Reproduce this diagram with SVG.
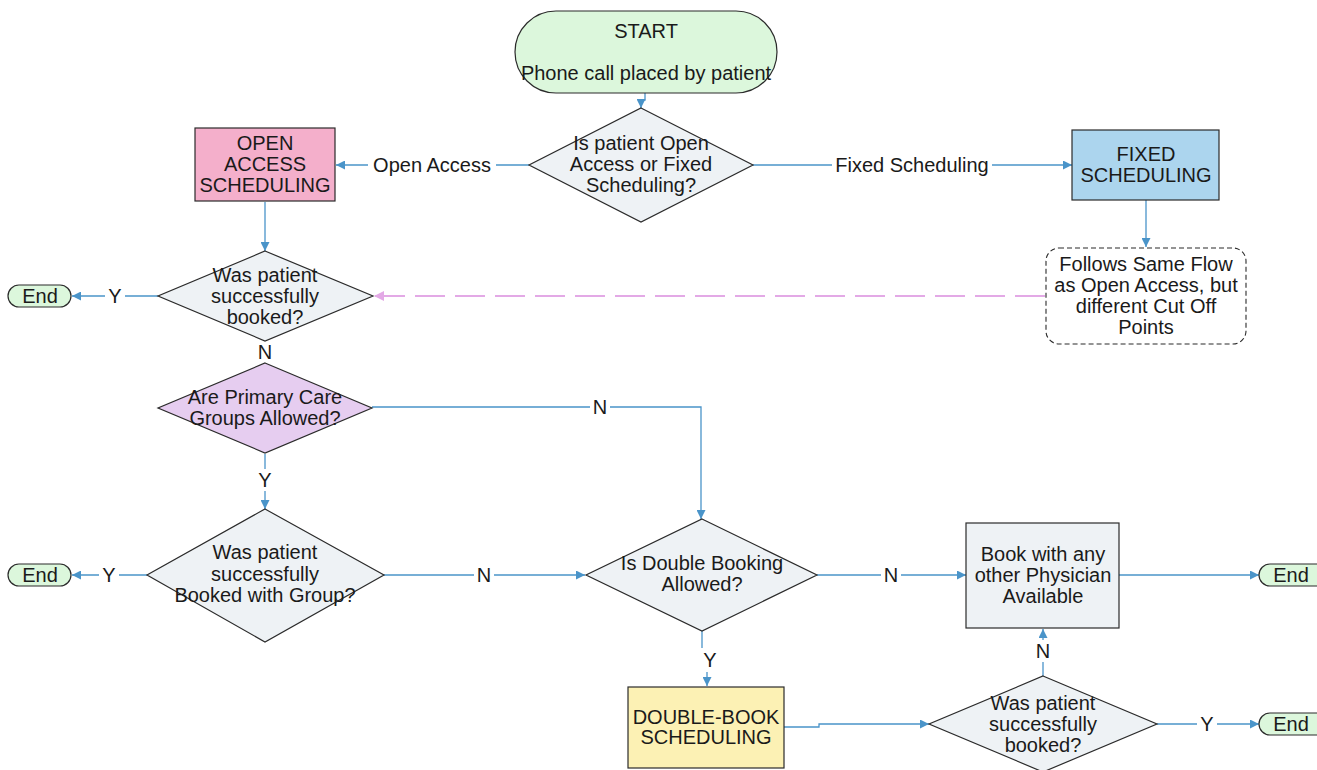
<svg xmlns="http://www.w3.org/2000/svg" width="1317" height="770" viewBox="0 0 1317 770">
  <defs>
    <marker id="arrow" viewBox="0 0 10 10" refX="10" refY="5" markerWidth="10" markerHeight="9" markerUnits="userSpaceOnUse" orient="auto">
      <path d="M0,0 L10,5 L0,10 Z" fill="#4a94c9"/>
    </marker>
    <marker id="arrowPink" viewBox="0 0 10 10" refX="10" refY="5" markerWidth="12" markerHeight="10" markerUnits="userSpaceOnUse" orient="auto">
      <path d="M0,0 L10,5 L0,10 Z" fill="#e3a9e6"/>
    </marker>
  </defs>
  <style>
    text { font-family: "Liberation Sans", Arial, sans-serif; font-size: 20px; fill: #1a1a1a; text-anchor: middle; }
    .shape { stroke: #2b2b2b; stroke-width: 1.2; }
    .term { fill: #dcf7dc; }
    .decision { fill: #eef2f5; }
    .link { fill: none; stroke: #4a94c9; stroke-width: 1.3; marker-end: url(#arrow); }
    .bg { fill: #ffffff; }
  </style>
  <rect width="1317" height="770" fill="#ffffff"/>

  <!-- connectors -->
  <g id="connectors">
    <path class="link" d="M645,93 V100 H641 V108"/>
    <path class="link" d="M529,165 H336"/>
    <path class="link" d="M753,165 H1072"/>
    <path class="link" d="M265,202 V251"/>
    <path class="link" d="M1146,200 V247"/>
    <path d="M1045,296 H374" fill="none" stroke="#e3a9e6" stroke-width="2" stroke-dasharray="30 10" marker-end="url(#arrowPink)"/>
    <path class="link" d="M158,296 H72"/>
    <path class="link" d="M265,454 V509"/>
    <path class="link" d="M372,407 H701 V519"/>
    <path class="link" d="M147,575 H72"/>
    <path class="link" d="M384,575 H585"/>
    <path class="link" d="M817,575 H966"/>
    <path class="link" d="M1119,575 H1259"/>
    <path class="link" d="M702,631 V660 H707 V686"/>
    <path class="link" d="M784,727 H819 V724 H929"/>
    <path class="link" d="M1043,676 V629"/>
    <path class="link" d="M1157,724 H1259"/>

    <!-- connector labels -->
    <rect class="bg" x="368" y="154" width="128" height="22"/>
    <text x="432" y="172">Open Access</text>
    <rect class="bg" x="832" y="154" width="160" height="22"/>
    <text x="912" y="172">Fixed Scheduling</text>
    <rect class="bg" x="105" y="285" width="20" height="22"/>
    <text x="115" y="303">Y</text>
    <text x="265" y="359">N</text>
    <rect class="bg" x="255" y="469" width="20" height="22"/>
    <text x="265" y="487">Y</text>
    <rect class="bg" x="590" y="396" width="20" height="22"/>
    <text x="600" y="414">N</text>
    <rect class="bg" x="99" y="564" width="20" height="22"/>
    <text x="109" y="582">Y</text>
    <rect class="bg" x="474" y="564" width="20" height="22"/>
    <text x="484" y="582">N</text>
    <rect class="bg" x="881" y="564" width="20" height="22"/>
    <text x="891" y="582">N</text>
    <rect class="bg" x="699" y="648" width="22" height="24"/>
    <text x="710" y="667">Y</text>
    <rect class="bg" x="1033" y="640" width="20" height="22"/>
    <text x="1043" y="658">N</text>
    <rect class="bg" x="1197" y="713" width="20" height="22"/>
    <text x="1207" y="731">Y</text>
  </g>

  <!-- start terminal -->
  <g id="start">
    <rect class="shape term" x="515" y="11" width="262" height="82" rx="41" ry="41"/>
    <text x="646" y="38">START</text>
    <text x="646" y="80">Phone call placed by patient</text>
  </g>

  <!-- schedule type decision -->
  <g id="schedule-type">
    <polygon class="shape decision" points="641,108 753,165 641,222 529,165"/>
    <text x="641" y="150">Is patient Open</text>
    <text x="641" y="171">Access or Fixed</text>
    <text x="641" y="192">Scheduling?</text>
  </g>

  <g id="open-access">
    <rect class="shape" x="195" y="128" width="140" height="73" fill="#f4afcb"/>
    <text x="265" y="150">OPEN</text>
    <text x="265" y="171">ACCESS</text>
    <text x="265" y="192">SCHEDULING</text>
  </g>

  <g id="fixed">
    <rect class="shape" x="1072" y="130" width="147" height="70" fill="#acd5ee"/>
    <text x="1146" y="161">FIXED</text>
    <text x="1146" y="182">SCHEDULING</text>
  </g>

  <g id="same-flow-note">
    <rect x="1046" y="248" width="200" height="96" rx="13" ry="13" fill="#ffffff" stroke="#2b2b2b" stroke-width="1.1" stroke-dasharray="5 3"/>
    <text x="1146" y="271">Follows Same Flow</text>
    <text x="1146" y="292">as Open Access, but</text>
    <text x="1146" y="313">different Cut Off</text>
    <text x="1146" y="334">Points</text>
  </g>

  <g id="booked-1">
    <polygon class="shape decision" points="265,251 373,296 265,341 158,296"/>
    <text x="265" y="282">Was patient</text>
    <text x="265" y="303">successfully</text>
    <text x="265" y="324">booked?</text>
  </g>

  <g id="end-1">
    <rect class="shape term" x="8" y="285" width="63" height="22" rx="11" ry="11"/>
    <text x="40" y="303">End</text>
  </g>

  <g id="groups-allowed">
    <polygon class="shape" points="265,363 372,408 265,453 158,408" fill="#e6cdf0"/>
    <text x="265" y="404">Are Primary Care</text>
    <text x="265" y="425">Groups Allowed?</text>
  </g>

  <g id="booked-group">
    <polygon class="shape decision" points="265,509 384,575 265,642 147,575"/>
    <text x="265" y="559">Was patient</text>
    <text x="265" y="581">successfully</text>
    <text x="265" y="602">Booked with Group?</text>
  </g>

  <g id="end-2">
    <rect class="shape term" x="8" y="564" width="63" height="22" rx="11" ry="11"/>
    <text x="40" y="582">End</text>
  </g>

  <g id="double-allowed">
    <polygon class="shape decision" points="702,519 817,575 702,631 586,575"/>
    <text x="702" y="570">Is Double Booking</text>
    <text x="702" y="591">Allowed?</text>
  </g>

  <g id="other-physician">
    <rect class="shape decision" x="966" y="523" width="153" height="105"/>
    <text x="1043" y="561">Book with any</text>
    <text x="1043" y="582">other Physician</text>
    <text x="1043" y="603">Available</text>
  </g>

  <g id="end-3">
    <rect class="shape term" x="1259" y="564" width="75" height="22" rx="11" ry="11"/>
    <text x="1291" y="582">End</text>
  </g>

  <g id="double-book">
    <rect class="shape" x="628" y="687" width="156" height="81" fill="#fcf1b4"/>
    <text x="706" y="724">DOUBLE-BOOK</text>
    <text x="706" y="744">SCHEDULING</text>
  </g>

  <g id="booked-2">
    <polygon class="shape decision" points="1043,676 1157,724 1043,772 929,724"/>
    <text x="1043" y="710">Was patient</text>
    <text x="1043" y="731">successfully</text>
    <text x="1043" y="752">booked?</text>
  </g>

  <g id="end-4">
    <rect class="shape term" x="1259" y="713" width="75" height="22" rx="11" ry="11"/>
    <text x="1291" y="731">End</text>
  </g>
</svg>
